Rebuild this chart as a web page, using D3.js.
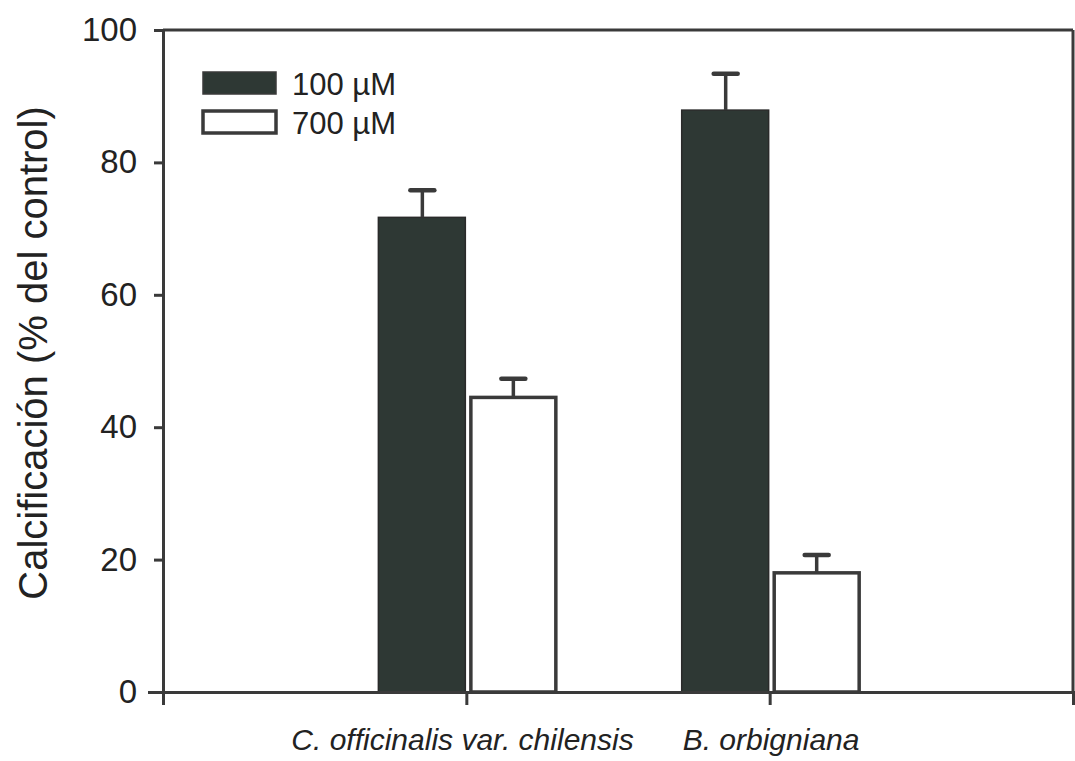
<!DOCTYPE html>
<html>
<head>
<meta charset="utf-8">
<script src="https://cdn.jsdelivr.net/npm/d3@7"></script>
<style>
  html, body { margin: 0; padding: 0; background: #fff; }
  svg { display: block; }
  text { font-family: "Liberation Sans", Arial, sans-serif; fill: #222; }
</style>
</head>
<body>
<svg id="chart" width="1075" height="761"></svg>
<script>
// Species groups and treatments
const categories = ["C. officinalis var. chilensis", "B. orbigniana"];
const series = ["100 µM", "700 µM"];
// Calcification as % of control (mean) and upper error bar
const values100 = [71.7, 87.9];
const errors100 = [4.1, 5.5];
const values700 = [44.5, 18.0];
const errors700 = [2.8, 2.7];
const yTicks = [0, 20, 40, 60, 80, 100];

const svg = d3.select("#chart");
const margin = { left: 163, right: 2, top: 30, bottom: 69 };
const W = 1075, H = 761;
const ink = "#3a3a3a";
const darkFill = "#2e3834";

// Group positions 1 and 2 on a 0..3 span
const x = d3.scaleLinear().domain([0, 3]).range([margin.left, W - margin.right]);
const y = d3.scaleLinear().domain([0, 100]).range([H - margin.bottom, margin.top]);
const barW = 0.29; // in group units
const gap = 0.01;

// Frame: top and right lines
svg.append("line").attr("x1", x(0)).attr("x2", x(3)).attr("y1", y(100)).attr("y2", y(100))
  .attr("stroke", ink).attr("stroke-width", 3);
svg.append("line").attr("x1", x(3)).attr("x2", x(3)).attr("y1", y(100)).attr("y2", y(0))
  .attr("stroke", ink).attr("stroke-width", 3);

// Bars
const rows = categories.map((c, i) => ({ c, i, v1: values100[i], e1: errors100[i], v2: values700[i], e2: errors700[i] }));

const g = svg.append("g");
rows.forEach(r => {
  const cx = r.i + 1;
  // 100 µM (dark)
  g.append("rect")
    .attr("x", x(cx - barW)).attr("width", x(cx) - x(cx - barW) - 1)
    .attr("y", y(r.v1)).attr("height", y(0) - y(r.v1))
    .attr("fill", darkFill).attr("stroke", "#2a2a2a").attr("stroke-width", 1.5);
  // 700 µM (open)
  g.append("rect")
    .attr("x", x(cx + gap) + 1.5).attr("width", x(cx + gap + barW) - x(cx + gap) - 3)
    .attr("y", y(r.v2)).attr("height", y(0) - y(r.v2))
    .attr("fill", "#fff").attr("stroke", ink).attr("stroke-width", 3.5);
  // error bars
  [[cx - barW / 2, r.v1, r.e1], [cx + gap + barW / 2, r.v2, r.e2]].forEach(([px, v, e]) => {
    g.append("line").attr("x1", x(px)).attr("x2", x(px)).attr("y1", y(v)).attr("y2", y(v + e))
      .attr("stroke", ink).attr("stroke-width", 3.5);
    g.append("line").attr("x1", x(px) - 12).attr("x2", x(px) + 12).attr("y1", y(v + e)).attr("y2", y(v + e))
      .attr("stroke", ink).attr("stroke-width", 4.5).attr("stroke-linecap", "round");
  });
});

// Y axis
const yAxis = svg.append("g").attr("transform", `translate(${x(0)},0)`)
  .call(d3.axisLeft(y).tickValues(yTicks).tickSize(9).tickPadding(17));
yAxis.select(".domain").attr("stroke", ink).attr("stroke-width", 3);
yAxis.selectAll(".tick line").attr("stroke", ink).attr("stroke-width", 3);
yAxis.selectAll(".tick text").style("font-size", "33px").attr("fill", "#222")
  .style("font-family", "'Liberation Sans', Arial, sans-serif");
// zero tick extends a bit further
yAxis.selectAll(".tick").filter(d => d === 0).select("line").attr("x2", -15);

// X axis (ticks at group centres, no default labels)
const xAxis = svg.append("g").attr("transform", `translate(0,${y(0)})`)
  .call(d3.axisBottom(x).tickValues([1, 2]).tickSize(13).tickFormat(""));
xAxis.select(".domain").attr("stroke", ink).attr("stroke-width", 3);
xAxis.selectAll(".tick line").attr("stroke", ink).attr("stroke-width", 3);

// Category labels
svg.append("text").attr("x", x(1) - 175).attr("y", 750).attr("text-anchor", "start")
  .style("font-size", "30px").style("font-style", "italic").text(categories[0]);
svg.append("text").attr("x", x(2) - 87).attr("y", 750).attr("text-anchor", "start")
  .style("font-size", "30px").style("font-style", "italic").text(categories[1]);

// Y title
svg.append("text")
  .attr("transform", `translate(47,${(y(0) + y(100)) / 2 - 8}) rotate(-90)`)
  .attr("text-anchor", "middle").style("font-size", "40px")
  .text("Calcificación (% del control)");

// Legend
const legend = svg.append("g");
series.forEach((s, i) => {
  const ly = 72 + i * 39;
  legend.append("rect").attr("x", 203).attr("y", ly).attr("width", 73).attr("height", 22)
    .attr("fill", i === 0 ? darkFill : "#fff").attr("stroke", ink).attr("stroke-width", i === 0 ? 1.5 : 3.5);
  legend.append("text").attr("x", 292).attr("y", ly + 23).style("font-size", "31px").text(s);
});
</script>
</body>
</html>
